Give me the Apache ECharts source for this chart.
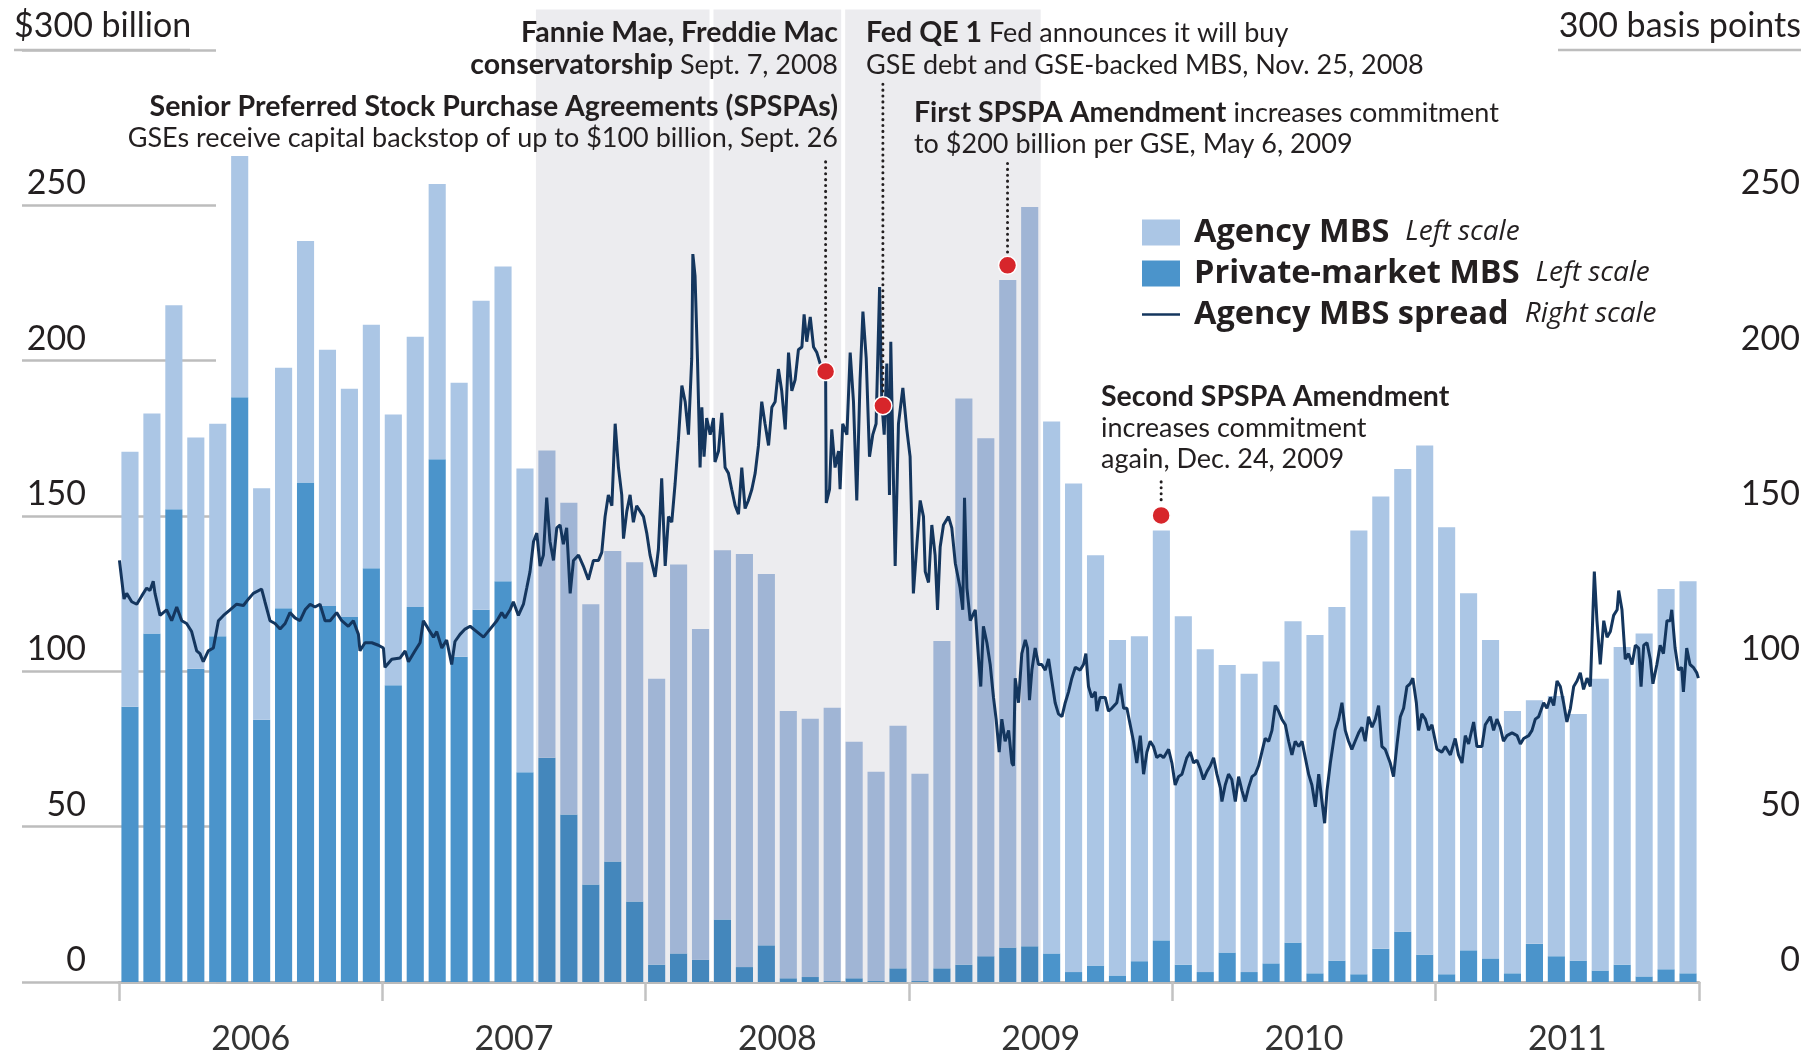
<!DOCTYPE html>
<html>
<head>
<meta charset="utf-8">
<title>Agency and private-market MBS issuance, agency MBS spread</title>
<script src="https://cdn.jsdelivr.net/npm/echarts@6/dist/echarts.min.js"></script>
<style>
html, body { margin: 0; padding: 0; background: #fff; }
#chart { width: 1807px; height: 1056px; }
</style>
</head>
<body>
<div id="chart"></div>
<script>
// monthly issuance, $ billion, Jan 2006 .. Dec 2011
var years = ['2006', '2007', '2008', '2009', '2010', '2011'];
var privateMBS = [
    88.6, 112.2, 152.2, 100.8, 111.3, 188.2, 84.4, 120.3, 160.8, 121.0, 117.5, 133.2,
    95.5, 120.7, 168.3, 104.7, 119.8, 129.0, 67.5, 72.2, 53.9, 31.4, 38.8, 25.9,
    5.6, 9.2, 7.2, 20.1, 4.8, 11.8, 1.2, 1.6, 0.3, 1.2, 0.3, 4.4,
    0.3, 4.4, 5.6, 8.3, 11.1, 11.5, 9.2, 3.2, 5.3, 2.1, 6.7, 13.4,
    5.6, 3.2, 9.5, 3.2, 6.0, 12.7, 2.8, 6.9, 2.5, 10.7, 16.2, 8.8,
    2.5, 10.2, 7.6, 2.8, 12.3, 8.3, 6.9, 3.7, 5.6, 1.8, 4.1, 2.8
];
var agencyMBS = [
    82.1, 70.8, 65.6, 74.5, 68.4, 77.7, 74.5, 77.4, 77.7, 82.5, 73.5, 78.4,
    87.2, 87.0, 88.6, 88.2, 99.5, 101.3, 97.8, 98.9, 100.4, 90.2, 99.9, 109.2,
    92.0, 125.2, 106.4, 118.9, 133.0, 119.5, 86.0, 83.1, 88.0, 76.1, 67.4, 78.1,
    66.7, 105.4, 182.2, 166.7, 214.9, 238.0, 171.2, 157.3, 132.1, 108.0, 104.6, 131.9,
    112.1, 103.9, 92.5, 96.0, 97.2, 103.4, 108.9, 113.8, 142.8, 145.6, 148.9, 163.9,
    143.9, 114.9, 102.5, 84.4, 78.4, 83.8, 79.4, 93.9, 102.2, 110.4, 122.4, 126.2
];
// agency MBS spread, basis points: [months since Jan 2006, bp]
var spread = [
    [0.02,135.7],[0.08,132.1],[0.23,123.3],[0.35,125.1],[0.58,122.4],[0.81,121.6],[1.03,124.2],[1.26,126.8],
    [1.41,126.0],[1.56,129.0],[1.64,125.1],[1.87,118.0],[2.17,119.8],[2.40,116.3],[2.63,120.7],[2.86,116.3],
    [3.08,115.4],[3.31,112.8],[3.54,106.6],[3.69,105.7],[3.84,103.1],[4.07,106.6],[4.30,107.5],[4.53,116.3],
    [4.76,118.0],[5.06,119.8],[5.36,121.6],[5.67,121.2],[5.90,123.3],[6.12,125.1],[6.50,126.5],[6.65,122.4],
    [6.88,116.3],[7.11,115.4],[7.34,113.6],[7.57,115.4],[7.79,118.9],[8.02,117.2],[8.25,116.3],[8.48,119.8],
    [8.71,121.6],[8.93,120.7],[9.16,121.6],[9.39,116.3],[9.62,116.3],[9.92,118.9],[10.15,116.3],[10.45,114.5],
    [10.68,116.3],[10.91,111.9],[10.98,106.6],[11.21,109.2],[11.52,109.2],[11.82,108.4],[12.05,107.5],[12.12,101.3],
    [12.43,103.9],[12.81,104.3],[13.04,106.6],[13.19,103.1],[13.49,106.6],[13.72,109.2],[13.87,116.3],[14.10,113.6],
    [14.33,111.0],[14.48,112.8],[14.71,107.5],[14.93,110.1],[15.16,102.2],[15.31,109.6],[15.54,111.9],[15.77,113.6],
    [16.00,114.5],[16.30,112.8],[16.61,111.0],[16.91,113.6],[17.22,116.3],[17.44,118.9],[17.59,117.2],
    [17.82,119.8],[17.97,122.4],[18.20,118.0],[18.43,121.6],[18.58,126.8],[18.73,132.1],[18.89,141.8],[19.04,144.5],
    [19.19,133.9],[19.34,137.4],[19.49,155.9],[19.64,141.8],[19.80,135.7],[19.95,146.2],[20.10,147.1],[20.25,140.9],
    [20.40,146.2],[20.56,125.1],[20.71,135.7],[20.94,137.4],[21.16,133.9],[21.39,129.5],[21.62,135.7],[21.85,135.7],
    [22.00,138.3],[22.15,149.8],[22.30,156.8],[22.46,153.3],[22.61,179.7],[22.76,165.6],[22.91,156.8],[22.99,142.7],
    [23.14,151.5],[23.29,156.8],[23.44,148.0],[23.59,153.3],[23.75,151.5],[23.90,149.8],[24.05,144.5],[24.20,137.4],
    [24.43,130.4],[24.58,139.2],[24.73,162.1],[24.89,133.9],[25.04,149.8],[25.19,148.0],[25.34,160.3],[25.49,174.4],
    [25.65,192.0],[25.80,186.8],[25.95,176.2],[26.10,200.8],[26.15,234.3],[26.25,227.3],[26.36,200.8],[26.48,165.6],
    [26.56,185.0],[26.66,169.1],[26.78,181.5],[26.94,176.2],[27.09,181.5],[27.16,167.4],[27.32,170.9],[27.47,183.2],
    [27.62,165.6],[27.77,163.8],[27.92,158.6],[28.08,153.3],[28.23,150.6],[28.38,165.6],[28.53,152.4],[28.68,155.0],
    [28.84,158.6],[28.99,163.8],[29.14,172.7],[29.29,186.8],[29.44,179.7],[29.60,172.7],[29.75,185.0],[29.90,186.8],
    [30.05,197.3],[30.20,190.3],[30.36,177.9],[30.51,202.6],[30.66,190.3],[30.81,193.8],[30.96,203.5],[31.12,204.4],
    [31.22,214.9],[31.34,206.1],[31.50,214.1],[31.65,204.4],[31.80,202.6],[31.95,199.1],[32.11,197.3],[32.20,196.5],
    [32.23,154.2],[32.38,158.6],[32.48,177.9],[32.63,165.6],[32.79,170.9],[32.86,158.6],[32.98,179.7],[33.17,176.2],
    [33.32,202.6],[33.47,186.8],[33.62,155.0],[33.77,193.8],[33.90,215.8],[34.05,200.8],[34.20,169.1],[34.35,176.2],
    [34.50,179.7],[34.66,223.7],[34.76,186.8],[34.87,176.2],[34.99,199.1],[35.11,156.8],[35.17,206.1],[35.29,162.1],
    [35.37,133.9],[35.52,179.7],[35.72,191.2],[35.90,177.9],[36.05,169.1],[36.20,125.1],[36.36,140.9],[36.51,155.0],
    [36.66,149.8],
    [36.74,132.1],[36.89,128.6],[37.04,147.1],[37.19,137.4],[37.30,119.8],[37.42,140.0],[37.57,147.1],[37.80,149.8],
    [37.95,146.2],[38.11,134.8],[38.33,126.8],[38.45,119.8],[38.53,155.9],[38.64,126.8],[38.79,116.3],[39.02,119.8],
    [39.17,104.0],[39.27,95.1],[39.39,114.5],[39.55,109.2],[39.70,102.2],[39.85,91.6],[39.97,84.6],[40.11,74.0],
    [40.23,84.6],[40.38,77.5],[40.54,81.0],[40.69,70.5],[40.76,69.6],[40.84,97.8],[40.99,89.9],[41.14,105.7],
    [41.30,110.1],[41.40,107.5],[41.49,90.7],[41.60,100.4],[41.75,107.5],[41.90,102.2],[42.05,102.2],[42.21,100.4],
    [42.36,104.0],[42.51,96.9],[42.66,89.9],[42.81,86.3],[42.97,85.4],[43.12,89.9],[43.27,93.4],[43.42,97.8],
    [43.58,101.3],[43.80,100.4],[43.95,102.2],[44.06,105.7],[44.18,95.1],[44.33,91.6],[44.49,93.4],[44.56,87.2],
    [44.71,91.6],[44.94,91.6],[45.09,87.2],[45.24,88.1],[45.47,89.9],[45.62,96.0],[45.78,88.1],[45.93,88.1],
    [46.08,82.8],[46.23,77.5],[46.38,70.5],[46.54,79.3],[46.69,66.9],[46.84,74.0],[46.99,77.5],[47.14,75.8],
    [47.29,72.2],[47.45,73.1],[47.60,72.2],[47.83,74.9],[47.98,70.5],[48.13,63.4],[48.28,66.1],[48.44,66.9],
    [48.66,72.2],[48.82,74.0],[48.97,70.5],[49.12,71.4],[49.27,68.7],[49.42,65.2],[49.58,67.8],[49.73,69.6],
    [49.88,72.2],[50.03,66.9],[50.19,62.5],[50.26,58.1],[50.41,63.4],[50.56,66.9],[50.71,65.2],[50.87,58.1],
    [51.02,66.1],[51.17,61.7],[51.32,58.1],[51.47,62.5],[51.63,66.1],[51.78,66.9],[51.93,69.6],[52.08,74.0],
    [52.23,78.4],[52.39,77.5],[52.54,81.0],[52.69,89.0],[52.84,87.2],[52.99,84.6],[53.15,82.8],[53.30,77.5],
    [53.45,73.1],[53.60,77.5],[53.76,75.8],[53.91,77.5],[54.06,72.2],[54.21,66.9],[54.36,63.4],[54.52,56.4],
    [54.67,66.9],[54.82,58.1],[54.94,51.1],[55.05,61.7],[55.20,70.5],
    [55.42,81.0],[55.58,84.6],[55.73,89.9],[55.88,81.0],[56.03,77.5],[56.18,74.9],[56.33,77.5],[56.49,80.2],
    [56.64,82.0],[56.79,77.5],[56.94,85.4],[57.10,82.0],[57.25,84.6],[57.40,89.0],[57.55,75.8],[57.70,74.9],
    [57.93,70.5],[58.08,66.1],[58.24,76.6],[58.39,85.4],[58.54,88.1],[58.69,95.1],[58.84,96.0],[58.96,97.8],
    [59.12,89.9],[59.22,81.0],[59.37,86.3],[59.53,84.6],[59.68,81.0],[59.83,82.8],[60.06,74.9],[60.28,74.0],
    [60.44,75.8],[60.67,73.1],[60.89,78.4],[61.04,73.1],[61.20,70.5],[61.35,79.3],[61.50,76.6],[61.73,83.7],
    [61.88,75.8],[62.11,75.8],[62.26,82.8],[62.49,85.4],[62.64,81.0],[62.79,84.6],[62.94,82.0],[63.09,77.5],
    [63.25,79.3],[63.48,80.2],[63.71,79.3],[63.86,76.6],[64.01,78.4],[64.24,79.3],[64.39,81.0],[64.54,84.6],
    [64.69,85.4],[64.92,89.9],[65.07,88.1],[65.23,91.6],[65.38,89.0],[65.53,96.9],[65.68,95.1],[65.83,89.9],
    [65.98,83.7],[66.14,88.1],[66.29,95.1],[66.44,96.9],[66.59,99.5],[66.74,94.2],[66.90,97.8],[67.05,95.1],
    [67.23,132.1],[67.35,116.3],[67.50,102.2],[67.66,116.3],[67.81,111.0],[67.96,112.8],[68.11,118.0],[68.27,119.8],
    [68.34,126.0],[68.49,119.8],[68.64,103.9],[68.79,105.7],[68.95,102.2],[69.10,108.4],[69.25,107.5],[69.36,95.1],
    [69.48,108.4],[69.63,109.2],[69.78,103.9],[69.90,96.0],[70.08,102.2],[70.23,108.4],[70.38,105.7],[70.54,116.3],
    [70.69,116.3],[70.76,119.8],[70.91,107.5],[71.06,100.4],[71.21,101.3],[71.29,93.4],[71.44,107.5],[71.59,102.2],
    [71.74,101.3],[71.90,99.5],[71.97,97.8]
];
// shaded crisis period, months since Jan 2006 (split at Apr 2008 and Oct 2008)
var crisisSpans = [[19, 27], [27, 33], [33, 42]];
// annotated events: [months since Jan 2006, value]
var events = [[32.2, 196.5], [34.81, 185.5], [40.49, 230.7], [47.49, 150.2]];
// where each dotted leader ends (axis units)
var leaderTops = [264, 289, 263.5, 161];

var INK = '#231f20';
var FONT = 'Lato, "Open Sans", sans-serif';
var LEGEND_FONT = '"Open Sans", Lato, sans-serif';
var SHADE_TOP = 313;

var months = [];
years.forEach(function (y) {
    for (var m = 1; m <= 12; m++) { months.push(y + '-' + m); }
});

function inCrisis(i) {
    return i >= crisisSpans[0][0] && i < crisisSpans[crisisSpans.length - 1][1];
}

// bars under the shading are drawn a little greyer
function shaded(values, dark) {
    return values.map(function (v, i) {
        return inCrisis(i) ? { value: v, itemStyle: { color: dark } } : v;
    });
}

function renderShade(params, api) {
    var i = params.dataIndex;
    var x0 = api.coord([api.value(0), 0])[0];
    var x1 = api.coord([api.value(1), 0])[0];
    // thin white gaps where two spans meet
    if (i > 0) x0 += 2;
    if (i < crisisSpans.length - 1) x1 -= 2;
    var bottom = api.coord([0, 0])[1];
    var top = api.coord([0, SHADE_TOP])[1];
    return {
        type: 'rect',
        shape: { x: x0, y: top, width: x1 - x0, height: bottom - top },
        style: { fill: '#ececef' }
    };
}

function renderEvent(params, api) {
    var p = api.coord([api.value(0), api.value(1)]);
    var top = api.coord([api.value(0), api.value(2)])[1];
    return {
        type: 'group',
        children: [
            { type: 'line', shape: { x1: p[0], y1: top, x2: p[0], y2: p[1] - 10 },
              style: { stroke: INK, lineWidth: 3, lineDash: [0.1, 5.8], lineCap: 'round' } },
            { type: 'circle', shape: { cx: p[0], cy: p[1], r: 9 },
              style: { fill: '#d7262b', stroke: '#fff', lineWidth: 1.5 } }
        ]
    };
}

var scaleNote = {
    'Agency MBS': 'Left scale',
    'Private-market MBS': 'Left scale',
    'Agency MBS spread': 'Right scale'
};

var richText = {
    b: { fontFamily: FONT, fontSize: 28.5, fontWeight: 'bold', fill: INK },
    r: { fontFamily: FONT, fontSize: 27, fill: INK }
};

// annotation texts
var notes = [
    [838, 33, 'right', '{b|Fannie Mae, Freddie Mac}'],
    [838, 65, 'right', '{b|conservatorship}{r| Sept. 7, 2008}'],
    [838, 107, 'right', '{b|Senior Preferred Stock Purchase Agreements (SPSPAs)}'],
    [838, 138, 'right', '{r|GSEs receive capital backstop of up to $100 billion, Sept. 26}'],
    [866, 33, 'left', '{b|Fed QE 1}{r| Fed announces it will buy}'],
    [866, 65, 'left', '{r|GSE debt and GSE-backed MBS, Nov. 25, 2008}'],
    [914, 113, 'left', '{b|First SPSPA Amendment}{r| increases commitment}'],
    [914, 144, 'left', '{r|to $200 billion per GSE, May 6, 2009}'],
    [1101, 397, 'left', '{b|Second SPSPA Amendment}'],
    [1101, 428, 'left', '{r|increases commitment}'],
    [1101, 459, 'left', '{r|again, Dec. 24, 2009}']
];

var chart = echarts.init(document.getElementById('chart'));

var axisLabelStyle = { fontFamily: FONT, fontSize: 34, color: INK };

chart.setOption({
    animation: false,
    backgroundColor: '#fff',
    grid: { left: 119, right: 108, top: 50, bottom: 71 },
    legend: {
        orient: 'vertical', left: 1142, top: 216, padding: 0,
        itemWidth: 38, itemHeight: 26, itemGap: 8,
        selectedMode: false,
        data: [
            { name: 'Agency MBS', icon: 'rect' },
            { name: 'Private-market MBS', icon: 'rect' },
            { name: 'Agency MBS spread', icon: 'path://M0,0h38v2.6h-38z' }
        ],
        formatter: function (name) {
            return '{s|}{b|' + name + '}{g|}{i|' + scaleNote[name] + '}';
        },
        textStyle: {
            lineHeight: 26,
            rich: {
                s: { width: 9, lineHeight: 26 },
                g: { width: 16, lineHeight: 26 },
                b: { fontFamily: LEGEND_FONT, fontSize: 32.5, fontWeight: 'bold', color: INK, lineHeight: 26 },
                i: { fontFamily: LEGEND_FONT, fontSize: 28, fontStyle: 'italic', color: INK, lineHeight: 26 }
            }
        }
    },
    xAxis: [
        { type: 'category', data: months, show: false, gridIndex: 0 },
        {
            type: 'value', min: 0, max: 72, interval: 12, position: 'bottom',
            axisLine: { show: true, lineStyle: { color: '#bababa', width: 3 } },
            axisTick: { show: true, length: 19, lineStyle: { color: '#c2c2c2', width: 2.5 } },
            axisLabel: { show: false },
            splitLine: { show: false }
        },
        {
            type: 'value', min: 0, max: 72, interval: 6, position: 'bottom',
            axisLine: { show: false }, axisTick: { show: false }, splitLine: { show: false },
            axisLabel: {
                margin: 40, fontFamily: FONT, fontSize: 34, color: '#333',
                formatter: function (v) { return v % 12 === 6 ? years[(v - 6) / 12] : ''; }
            }
        }
    ],
    yAxis: [
        {
            type: 'value', min: 0, max: 300, interval: 50, position: 'left', offset: 8,
            axisLine: { show: false }, splitLine: { show: false },
            axisTick: { show: true, length: 97, lineStyle: { color: '#bdbdbd', width: 2.5 } },
            axisLabel: Object.assign({
                margin: 25, align: 'right', verticalAlign: 'bottom', padding: [0, 0, 5, 0],
                formatter: function (v) { return v === 300 ? '' : String(v); }
            }, axisLabelStyle)
        },
        {
            type: 'value', min: 0, max: 300, interval: 50, position: 'right', offset: 5,
            axisLine: { show: false }, splitLine: { show: false },
            axisTick: { show: true, length: 97, lineStyle: { color: '#bdbdbd', width: 2.5 } },
            axisLabel: Object.assign({
                margin: 96, align: 'right', verticalAlign: 'bottom', padding: [0, 0, 5, 0],
                formatter: function (v) { return v === 300 ? '' : String(v); }
            }, axisLabelStyle)
        }
    ],
    series: [
        {
            type: 'custom', name: 'crisis', xAxisIndex: 1, yAxisIndex: 0,
            data: crisisSpans, renderItem: renderShade, clip: false, silent: true, z: 1
        },
        {
            name: 'Private-market MBS', type: 'bar', stack: 'mbs', barCategoryGap: '22%',
            data: shaded(privateMBS, '#4487bc'),
            itemStyle: { color: '#4b94cb' }, z: 2
        },
        {
            name: 'Agency MBS', type: 'bar', stack: 'mbs', barCategoryGap: '22%',
            data: shaded(agencyMBS, '#a0b5d5'),
            itemStyle: { color: '#abc6e5' }, z: 2
        },
        {
            name: 'Agency MBS spread', type: 'line', xAxisIndex: 1, yAxisIndex: 1,
            data: spread, symbol: 'none', showSymbol: false,
            lineStyle: { color: '#14365e', width: 3 }, itemStyle: { color: '#14365e' }, z: 4
        },
        {
            type: 'custom', name: 'events', xAxisIndex: 1, yAxisIndex: 1,
            data: events.map(function (e, i) { return [e[0], e[1], leaderTops[i]]; }),
            renderItem: renderEvent, clip: false, z: 5
        }
    ]
});

// axis titles sit on the 300 line, which is drawn longer under them
var y300 = chart.convertToPixel({ yAxisIndex: 0 }, 300);
var graphics = [
    { type: 'line', shape: { x1: 14, y1: y300, x2: 190, y2: y300 }, style: { stroke: '#bdbdbd', lineWidth: 2.5 } },
    { type: 'line', shape: { x1: 1558, y1: y300, x2: 1801, y2: y300 }, style: { stroke: '#bdbdbd', lineWidth: 2.5 } },
    { type: 'text', x: 14, y: y300 - 24,
      style: { text: '$300 billion', fill: INK, font: '34px ' + FONT, textAlign: 'left', textVerticalAlign: 'middle' } },
    { type: 'text', x: 1801, y: y300 - 24,
      style: { text: '300 basis points', fill: INK, font: '34px ' + FONT, textAlign: 'right', textVerticalAlign: 'middle' } }
];
notes.forEach(function (n) {
    graphics.push({
        type: 'text', x: n[0], y: n[1], z: 10,
        style: { text: n[3], textAlign: n[2], textVerticalAlign: 'middle', fill: INK,
                 font: '28px ' + FONT, rich: richText }
    });
});
chart.setOption({ graphic: graphics });
</script>
</body>
</html>
